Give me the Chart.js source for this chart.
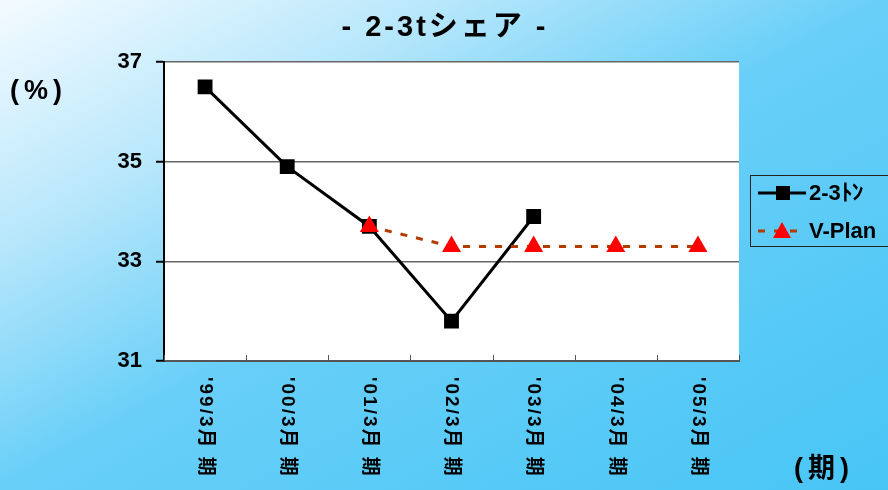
<!DOCTYPE html>
<html>
<head>
<meta charset="utf-8">
<script src="https://cdn.jsdelivr.net/npm/chart.js@4/dist/chart.umd.min.js"></script>
<style>
  html, body { margin: 0; padding: 0; }
  body {
    width: 888px; height: 490px; overflow: hidden;
    background: linear-gradient(to bottom right, #f4fbff 0%, #b8e7fb 25%, #68cff8 50%, #48c5f5 100%);
  }
  #wrap { position: relative; width: 888px; height: 490px; }
</style>
</head>
<body>
<div id="wrap"><canvas id="shareChart" width="888" height="490"></canvas></div>
<script>
// data
const periods = ["'99/3月 期", "'00/3月 期", "'01/3月 期", "'02/3月 期", "'03/3月 期", "'04/3月 期", "'05/3月 期"];
const shareActual = [36.5, 34.9, 33.7, 31.8, 33.9, null, null];
const sharePlan = [null, null, 33.7, 33.3, 33.3, 33.3, 33.3];
const yTicks = [31, 33, 35, 37];

const FONT = '"Liberation Sans Narrow", "Liberation Sans", Arial, sans-serif';
const JFONT = '"Liberation Sans", "Noto Sans CJK JP", sans-serif';

// white plot area
const plotBg = {
  id: 'plotBg',
  beforeDraw(chart) {
    const { ctx, chartArea: a } = chart;
    ctx.save();
    ctx.fillStyle = '#ffffff';
    ctx.fillRect(a.left, a.top, a.right - a.left, a.bottom - a.top);
    ctx.restore();
  }
};

// title, axis captions, x labels, inner x ticks, legend
const decorations = {
  id: 'decorations',
  afterDraw(chart) {
    const { ctx, chartArea: a } = chart;
    const xs = chart.scales.x;
    ctx.save();

    // title
    ctx.fillStyle = '#000';
    ctx.textBaseline = 'middle';
    ctx.textAlign = 'center';
    ctx.font = 'bold 29px ' + JFONT;
    ctx.letterSpacing = '3px';
    ctx.fillText('- 2-3tシェア -', 445, 28);

    // axis captions
    ctx.font = 'bold 27px ' + JFONT;
    ctx.textAlign = 'left';
    ctx.letterSpacing = '5px';
    ctx.fillText('(%)', 10, 92);
    ctx.fillText('(期)', 794, 470);
    ctx.letterSpacing = '0px';

    // x tick marks pointing into the plot
    ctx.strokeStyle = '#555';
    ctx.lineWidth = 1;
    for (let i = 0; i <= periods.length; i++) {
      const x = Math.round(xs.getPixelForValue(i - 0.5)) + 0.5;
      ctx.beginPath();
      ctx.moveTo(x, a.bottom);
      ctx.lineTo(x, a.bottom - 6);
      ctx.stroke();
    }

    // rotated category labels (top to bottom)
    ctx.font = 'bold 19px ' + JFONT;
    ctx.letterSpacing = '2px';
    periods.forEach((p, i) => {
      const x = xs.getPixelForValue(i);
      ctx.save();
      ctx.translate(x, a.bottom + 16);
      ctx.rotate(Math.PI / 2);
      ctx.textAlign = 'left';
      ctx.textBaseline = 'middle';
      ctx.fillText(p, 0, 0);
      ctx.restore();
    });
    ctx.letterSpacing = '0px';

    // legend
    const lx = 750, ly = 175, lw = 145, lh = 71;
    ctx.strokeStyle = '#222';
    ctx.lineWidth = 1;
    ctx.strokeRect(lx + 0.5, ly + 0.5, lw, lh);
    const items = chart.data.datasets;
    items.forEach((ds, i) => {
      const y = ly + 18 + i * 38;
      ctx.save();
      ctx.strokeStyle = ds.borderColor;
      ctx.lineWidth = ds.borderWidth;
      ctx.setLineDash(ds.borderDash || []);
      ctx.beginPath();
      ctx.moveTo(lx + 8, y);
      ctx.lineTo(lx + 56, y);
      ctx.stroke();
      ctx.setLineDash([]);
      ctx.fillStyle = ds.pointBackgroundColor;
      if (ds.pointStyle === 'rect') {
        ctx.fillRect(lx + 26, y - 7, 14, 14);
      } else {
        ctx.beginPath();
        ctx.moveTo(lx + 32, y - 9);
        ctx.lineTo(lx + 41, y + 7);
        ctx.lineTo(lx + 23, y + 7);
        ctx.closePath();
        ctx.fill();
      }
      ctx.restore();
      ctx.fillStyle = '#000';
      ctx.font = 'bold 22px ' + FONT;
      ctx.textAlign = 'left';
      ctx.textBaseline = 'middle';
      ctx.fillText(ds.label, lx + 59, y + 1);
    });

    ctx.restore();
  }
};

new Chart(document.getElementById('shareChart'), {
  type: 'line',
  data: {
    labels: periods,
    datasets: [
      {
        label: '2-3ﾄﾝ',
        data: shareActual,
        borderColor: '#000000',
        borderWidth: 3,
        pointStyle: 'rect',
        pointRadius: 10.5,
        pointBackgroundColor: '#000000',
        pointBorderColor: '#000000',
        pointBorderWidth: 0,
        tension: 0,
        spanGaps: false,
        order: 2
      },
      {
        label: 'V-Plan',
        data: sharePlan,
        borderColor: '#b33b00',
        borderWidth: 3,
        borderDash: [7, 9],
        pointStyle: 'triangle',
        pointRadius: 11,
        pointBackgroundColor: '#ff0000',
        pointBorderColor: '#ff0000',
        pointBorderWidth: 0,
        tension: 0,
        order: 1
      }
    ]
  },
  options: {
    responsive: false,
    animation: false,
    devicePixelRatio: 1,
    layout: { padding: { top: 62, right: 149, bottom: 0, left: 0 } },
    plugins: {
      legend: { display: false },
      tooltip: { enabled: false },
      title: { display: false }
    },
    scales: {
      x: {
        offset: true,
        afterFit(s) { s.height = 129; },
        ticks: { display: false },
        grid: { display: false, drawTicks: false },
        border: { display: true, color: '#555', width: 2 }
      },
      y: {
        min: 31,
        max: 37,
        afterFit(s) { s.width = 164; },
        afterBuildTicks(s) { s.ticks = yTicks.map(v => ({ value: v })); },
        ticks: {
          color: '#000',
          padding: 14,
          font: { family: FONT, size: 22, weight: 'bold' }
        },
        grid: {
          color: ctx => (ctx.tick && ctx.tick.value === 31) ? 'rgba(0,0,0,0)' : '#666',
          lineWidth: 1.5,
          tickLength: 8,
          tickColor: '#000',
          tickWidth: 2
        },
        border: { display: true, color: '#000', width: 2 }
      }
    }
  },
  plugins: [plotBg, decorations]
});
</script>
</body>
</html>
